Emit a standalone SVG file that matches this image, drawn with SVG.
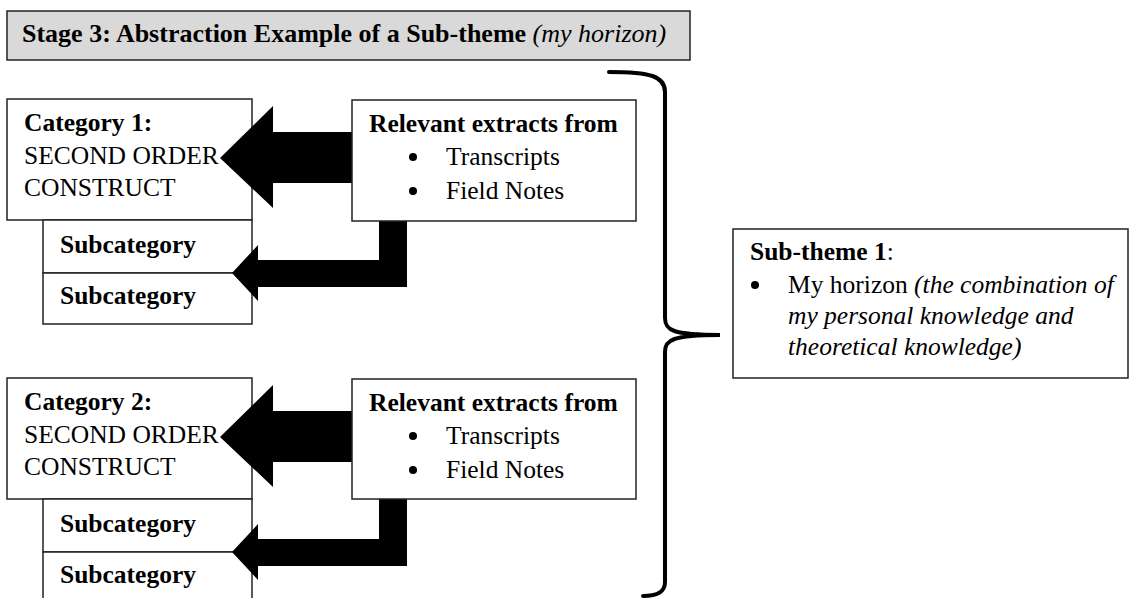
<svg xmlns="http://www.w3.org/2000/svg" width="1130" height="598" viewBox="0 0 1130 598">
<style>
.box{fill:#fff;stroke:#222;stroke-width:1.5}
.t{font-family:"Liberation Serif","Times New Roman",serif;font-size:25.5px;fill:#000}
.b{font-weight:bold}
.i{font-style:italic}
.arrow{fill:#000;stroke:none}
.brace{fill:none;stroke:#000;stroke-width:4;stroke-linecap:round}
</style>
<rect width="1130" height="598" fill="#fff"/>
<g id="title">
<rect x="7" y="11" width="683" height="49" fill="#d9d9d9" stroke="#222" stroke-width="1.5"/>
<text class="t" x="22" y="42" style="font-size:26px"><tspan class="b">Stage 3: Abstraction Example of a Sub-theme </tspan><tspan class="i">(my horizon)</tspan></text>
</g>
<g id="category1">
<rect class="box" x="7" y="99" width="245" height="121"/>
<text class="t b" x="24" y="131">Category 1:</text>
<text class="t" x="24" y="164">SECOND ORDER</text>
<text class="t" x="24" y="196">CONSTRUCT</text>
</g>
<g id="subcategory1a">
<rect class="box" x="43" y="220" width="209" height="53"/>
<text class="t b" x="60" y="253">Subcategory</text>
</g>
<g id="subcategory1b">
<rect class="box" x="43" y="273" width="209" height="51"/>
<text class="t b" x="60" y="304">Subcategory</text>
</g>
<g id="category2">
<rect class="box" x="7" y="378" width="245" height="121"/>
<text class="t b" x="24" y="410">Category 2:</text>
<text class="t" x="24" y="443">SECOND ORDER</text>
<text class="t" x="24" y="475">CONSTRUCT</text>
</g>
<g id="subcategory2a">
<rect class="box" x="43" y="499" width="209" height="53"/>
<text class="t b" x="60" y="532">Subcategory</text>
</g>
<g id="subcategory2b">
<rect class="box" x="43" y="552" width="209" height="52"/>
<text class="t b" x="60" y="583">Subcategory</text>
</g>
<g id="connectors">
<polygon class="arrow" points="352,132 273,132 273,106 220,158 273,208 273,183 352,183"/>
<polygon class="arrow" points="379,215 407,215 407,287 258,287 258,301 232,273 258,245 258,260 379,260"/>
<polygon class="arrow" points="352,411 273,411 273,385 220,437 273,487 273,462 352,462"/>
<polygon class="arrow" points="379,494 407,494 407,566 258,566 258,580 232,552 258,524 258,539 379,539"/>
<path class="brace" d="M609,72 C650,72 665,76 665,92 L665,318 C665,330 672,335 720,335 C672,335 665,340 665,352 L665,582 C665,593 656,596 643,596"/>
</g>
<g id="extracts1">
<rect class="box" x="352" y="100" width="284" height="121"/>
<text class="t b" x="369" y="132">Relevant extracts from</text>
<circle cx="413" cy="157" r="4"/>
<text class="t" x="446" y="165">Transcripts</text>
<circle cx="413" cy="191" r="4"/>
<text class="t" x="446" y="199">Field Notes</text>
</g>
<g id="extracts2">
<rect class="box" x="352" y="379" width="284" height="120"/>
<text class="t b" x="369" y="411">Relevant extracts from</text>
<circle cx="413" cy="436" r="4"/>
<text class="t" x="446" y="444">Transcripts</text>
<circle cx="413" cy="470" r="4"/>
<text class="t" x="446" y="478">Field Notes</text>
</g>
<g id="subtheme1">
<rect class="box" x="733" y="229" width="395" height="149"/>
<text class="t" x="750" y="260"><tspan class="b">Sub-theme 1</tspan>:</text>
<circle cx="755" cy="285" r="4"/>
<text class="t" x="788" y="293">My horizon <tspan class="i">(the combination of</tspan></text>
<text class="t i" x="788" y="324">my personal knowledge and</text>
<text class="t i" x="788" y="355">theoretical knowledge)</text>
</g>
</svg>
